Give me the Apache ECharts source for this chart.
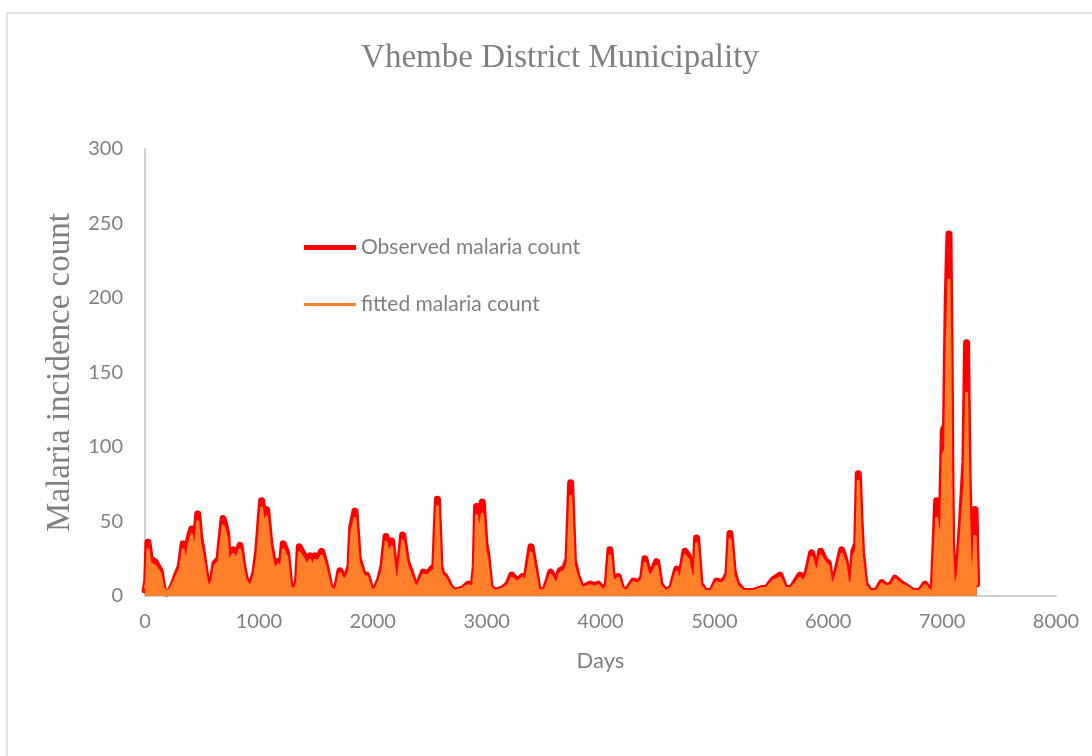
<!DOCTYPE html>
<html>
<head>
<meta charset="utf-8">
<script src="https://cdn.jsdelivr.net/npm/echarts@6/dist/echarts.min.js"></script>
<style>
html,body{margin:0;padding:0;background:#fff;}
#c{width:1092px;height:756px;}
</style>
</head>
<body>
<div id="c"></div>
<script>
const titleText = 'Vhembe District Municipality';
const xName = 'Days';
const yName = 'Malaria incidence count';
const seriesNames = ['Observed malaria count', 'fitted malaria count'];

const days = [
  1,15,26,45,88,132,160,190,220,250,
  278,310,335,360,385,410,435,463,480,498,
  541,570,595,615,650,686,700,717,735,746,
  775,800,834,855,878,920,945,966,990,1024,
  1045,1068,1097,1127,1150,1170,1195,1214,1244,1273,
  1317,1340,1355,1390,1420,1449,1470,1493,1520,1551,
  1580,1624,1668,1690,1712,1740,1771,1800,1815,1844,
  1873,1917,1946,1990,2030,2064,2090,2117,2140,2166,
  2195,2224,2263,2297,2327,2371,2400,2444,2488,2517,
  2545,2568,2590,2605,2634,2678,2722,2795,2839,2883,
  2900,2912,2935,2962,2985,3000,3030,3074,3147,3190,
  3220,3270,3315,3344,3390,3425,3454,3513,3540,3562,
  3615,3645,3689,3715,3738,3762,3791,3835,3908,3952,
  3981,4025,4060,4083,4100,4118,4156,4185,4230,4288,
  4332,4370,4390,4420,4449,4493,4522,4566,4624,4669,
  4698,4742,4771,4800,4830,4844,4874,4918,4976,5020,
  5064,5093,5120,5137,5166,5196,5254,5342,5415,5459,
  5518,5576,5620,5678,5752,5781,5817,5854,5883,5913,
  5933,5971,6000,6030,6074,6118,6147,6176,6206,6225,
  6250,6264,6280,6293,6322,6366,6425,6469,6513,6560,
  6586,6630,6689,6747,6806,6850,6894,6922,6937,6952,
  6966,6981,6996,7010,7030,7045,7060,7069,7076,7084,
  7100,7113,7142,7171,7200,7215,7222,7230,7245,7259,
  7275,7289,7303
];

const observed = [
  4,10,36,25,23,17,4,2,3,8,
  14,20,35,22,38,45,30,55,40,32,
  9,5,12,22,25,52,48,42,20,27,
  31,26,34,22,12,6,10,16,30,64,
  50,58,35,22,20,23,18,35,29,6,
  4,10,33,28,22,27,20,27,25,30,
  22,6,3,8,17,12,13,20,46,57,
  25,14,14,3,5,12,20,40,30,37,
  14,12,41,23,17,6,7,16,15,18,
  20,65,20,15,13,6,3,5,8,6,
  20,60,45,63,35,29,6,3,5,8,
  14,10,13,10,33,17,3,4,10,16,
  8,17,19,25,76,24,14,5,8,7,
  8,3,8,31,15,10,13,5,3,10,
  9,12,25,15,15,23,8,3,5,18,
  10,30,27,13,15,39,8,3,3,10,
  9,11,15,42,16,8,3,3,5,5,
  11,14,5,5,14,10,16,29,20,20,
  30,24,22,5,16,31,24,8,10,30,
  35,82,50,29,8,3,3,9,6,8,
  12,9,6,3,3,8,3,4,33,64,
  50,37,54,111,115,200,243,180,90,33,
  10,4,17,51,90,170,120,73,30,4,
  20,58,8
];

const fitted = [
  5,9,31,22,20,15,5,3,4,8,
  13,18,31,20,34,41,27,50,36,29,
  9,5,11,20,23,47,44,38,18,24,
  28,24,31,20,11,6,9,15,27,59,
  46,53,32,20,18,21,17,31,26,6,
  4,9,29,25,20,24,18,24,23,27,
  20,6,3,7,15,11,12,18,42,52,
  23,13,13,3,5,11,18,36,27,33,
  13,11,37,21,15,6,7,14,14,16,
  18,60,18,14,12,6,3,5,7,6,
  18,54,41,55,31,26,6,3,5,7,
  12,9,12,9,29,15,3,4,9,14,
  7,15,17,22,67,21,13,5,7,6,
  7,3,7,27,13,9,12,5,3,9,
  8,11,22,14,14,20,7,3,5,16,
  9,27,24,12,14,35,7,3,3,9,
  8,10,14,38,14,7,3,3,5,5,
  10,12,5,5,12,9,14,26,18,18,
  27,22,20,5,14,28,22,7,9,27,
  31,77,45,26,7,3,3,8,6,7,
  11,8,6,3,3,7,3,4,28,52,
  44,33,47,95,98,170,212,160,80,30,
  9,4,15,44,75,136,100,62,27,4,
  18,40,7
];

const xTicks = {min: 0, max: 8000, interval: 1000};
const yTicks = {min: 0, max: 300, interval: 50};

const obsData = days.map((d, i) => [d, observed[i]]);
const fitData = days.map((d, i) => [d, fitted[i]]);

const chart = echarts.init(document.getElementById('c'));
const gray = '#808080';
chart.setOption({
  animation: false,
  backgroundColor: '#fff',
  graphic: [{
    type: 'rect', silent: true, z: -10,
    shape: {x: 7, y: 13, width: 1200, height: 900},
    style: {fill: '#fff', stroke: '#D9D9D9', lineWidth: 1.5}
  }],
  title: {
    text: titleText,
    left: 555, top: 37, textAlign: 'center',
    textStyle: {fontFamily: 'Liberation Serif', fontWeight: 'normal', fontSize: 33, color: gray}
  },
  legend: {
    orient: 'vertical', left: 299, top: 232, itemWidth: 52, itemHeight: 18, itemGap: 36,
    textStyle: {fontFamily: 'Lato', fontSize: 21, color: gray},
    data: [
      {name: seriesNames[0], icon: 'path://M0,0 L52,0 L52,5 L0,5 Z', itemStyle: {color: '#FF0000'}},
      {name: seriesNames[1], icon: 'path://M0,0 L52,0 L52,3 L0,3 Z', itemStyle: {color: '#FF7F2A'}}
    ]
  },
  grid: {left: 145, right: 36, top: 149, bottom: 160, containLabel: false},
  xAxis: {
    type: 'value', min: xTicks.min, max: xTicks.max, interval: xTicks.interval,
    name: xName, nameLocation: 'middle', nameGap: 54,
    nameTextStyle: {fontFamily: 'Lato', fontSize: 22, color: gray},
    axisLine: {show: true, lineStyle: {color: '#BFBFBF', width: 1.5}},
    axisTick: {show: false},
    splitLine: {show: false},
    axisLabel: {fontFamily: 'Lato', fontSize: 20, color: gray, margin: 16, formatter: v => String(v)}
  },
  yAxis: {
    type: 'value', min: yTicks.min, max: yTicks.max, interval: yTicks.interval,
    name: yName, nameLocation: 'middle', nameGap: 66, nameRotate: 90,
    nameTextStyle: {fontFamily: 'Liberation Serif', fontSize: 33, color: gray},
    axisLine: {show: true, lineStyle: {color: '#BFBFBF', width: 1.5}},
    axisTick: {show: false},
    splitLine: {show: false},
    axisLabel: {fontFamily: 'Lato', fontSize: 20, color: gray, margin: 22, formatter: v => String(v)}
  },
  series: [
    {
      name: seriesNames[0], type: 'line', data: obsData, symbol: 'none',
      lineStyle: {color: '#FF0000', width: 7, join: 'round', cap: 'round'}, itemStyle: {color: '#FF0000'},
      areaStyle: {color: '#FF0000', opacity: 1}, z: 2
    },
    {
      name: seriesNames[1], type: 'line', data: fitData, symbol: 'none',
      lineStyle: {color: '#FF7F2A', width: 3, join: 'round'}, itemStyle: {color: '#FF7F2A'},
      areaStyle: {color: '#FF7F2A', opacity: 1}, z: 3
    }
  ]
});
</script>
</body>
</html>
